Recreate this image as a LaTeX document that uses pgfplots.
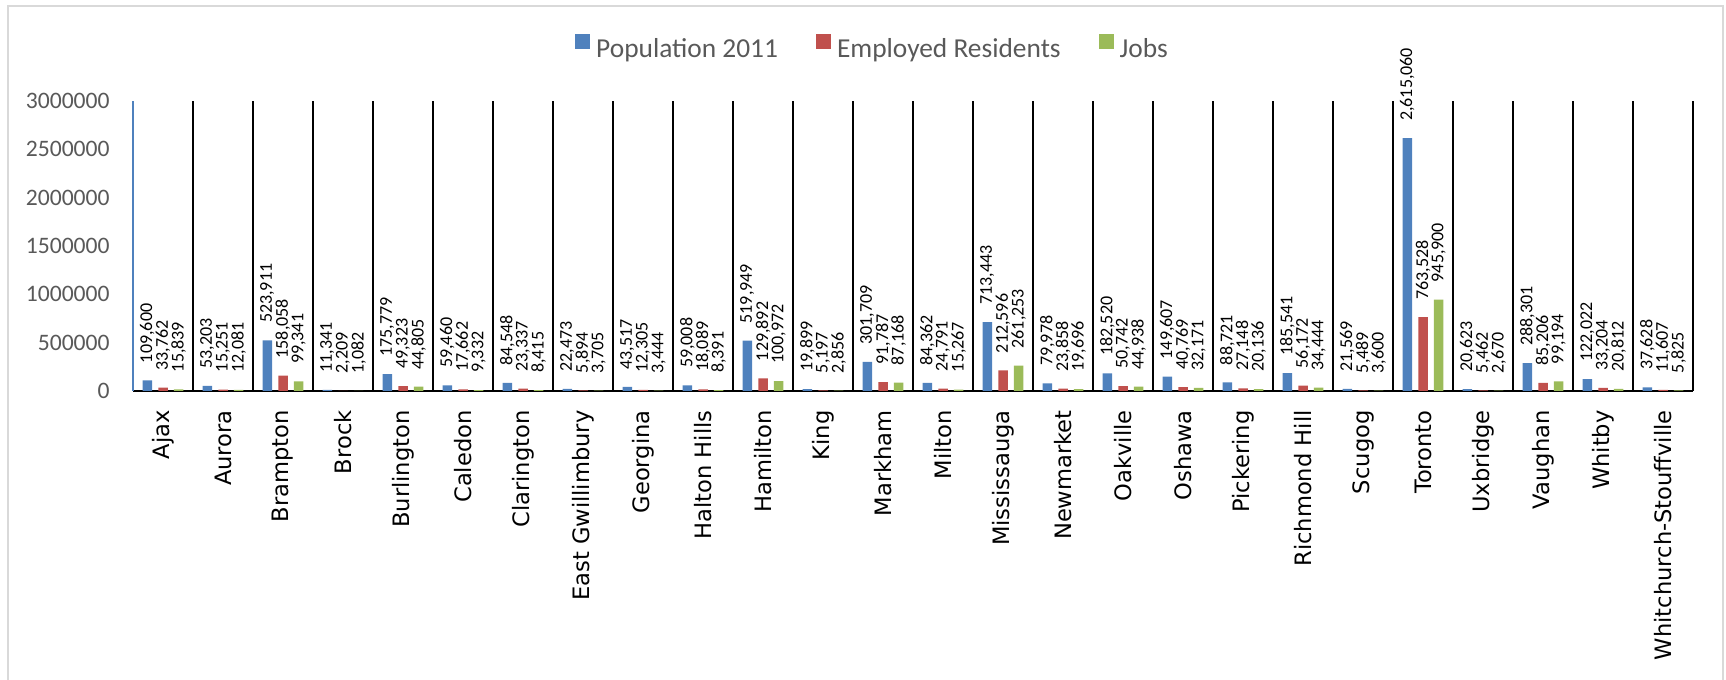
\documentclass[border=0pt]{standalone}
\usepackage{pgfplots}
\pgfplotsset{compat=1.18}
\usepackage{pgfplotstable}
\usepackage{fontspec}
\setmainfont{Carlito}
\newfontfamily\catfont{DejaVu Sans}

\definecolor{popblue}{HTML}{4F81BD}
\definecolor{empred}{HTML}{C0504D}
\definecolor{jobgreen}{HTML}{9BBB59}
\definecolor{ticktext}{HTML}{595959}
\definecolor{framegray}{HTML}{D9D9D9}

% Population (2011), employed residents and jobs by municipality
\pgfplotstableread{
idx pop emp jobs
0 109600 33762 15839
1 53203 15251 12081
2 523911 158058 99341
3 11341 2209 1082
4 175779 49323 44805
5 59460 17662 9332
6 84548 23337 8415
7 22473 5894 3705
8 43517 12305 3444
9 59008 18089 8391
10 519949 129892 100972
11 19899 5197 2856
12 301709 91787 87168
13 84362 24791 15267
14 713443 212596 261253
15 79978 23858 19696
16 182520 50742 44938
17 149607 40769 32171
18 88721 27148 20136
19 185541 56172 34444
20 21569 5489 3600
21 2615060 763528 945900
22 20623 5462 2670
23 288301 85206 99194
24 122022 33204 20812
25 37628 11607 5825
}\gtadata

\begin{document}
\begin{tikzpicture}
\useasboundingbox (0,0) rectangle (863pt,340pt);
\draw[framegray, line width=0.75pt] (4pt,-10pt) -- (4pt,337pt) -- (861.5pt,337pt) -- (861.5pt,-10pt);
\begin{axis}[
  at={(66.5pt,144.5pt)}, anchor=south west,
  scale only axis, width=780pt, height=145pt,
  xmin=-0.5, xmax=25.5, ymin=0, ymax=3000000,
  axis x line*=bottom, axis y line*=left,
  x axis line style={black, line width=1.2pt, -},
  y axis line style={popblue, line width=0.7pt, -},
  xtick={0,...,25},
  xticklabels={Ajax, Aurora, Brampton, Brock, Burlington, Caledon, Clarington,
    East Gwillimbury, Georgina, Halton Hills, Hamilton, King, Markham, Milton,
    Mississauga, Newmarket, Oakville, Oshawa, Pickering, Richmond Hill, Scugog,
    Toronto, Uxbridge, Vaughan, Whitby, Whitchurch-Stouffville},
  minor xtick={0.5,1.5,...,25.5},
  xminorgrids, minor grid style={black, line width=1pt},
  major tick length=0pt, minor tick length=0pt,
  ytick={0,500000,1000000,1500000,2000000,2500000,3000000},
  scaled y ticks=false,
  yticklabel={\pgfmathprintnumber[fixed,precision=0,1000 sep={},assume math mode=true]{\tick}},
  yticklabel style={font=\fontsize{11.8}{14}\selectfont, text=ticktext, anchor=east, inner xsep=11.5pt, inner ysep=0pt},
  xticklabel style={font=\catfont\fontsize{11.3}{13}\selectfont, text=black, rotate=90, anchor=east, inner xsep=9.5pt, inner ysep=0pt},
  ybar=3.1pt, bar width=4.75pt,
  clip=false,
  nodes near coords={\pgfmathprintnumber[fixed,precision=0,1000 sep={,},assume math mode=true]{\pgfplotspointmeta}},
  every node near coord/.append style={font=\fontsize{9}{10}\selectfont, text=black, rotate=90, anchor=west, inner xsep=8.5pt, inner ysep=0pt},
  legend columns=3,
  legend style={draw=none, fill=none, at={(0.4734,1.186)}, anchor=center,
    font=\fontsize{13.7}{16}\selectfont, text=ticktext, inner sep=0pt,
    nodes={inner sep=0pt},
    /tikz/every odd column/.append style={column sep=3pt},
    /tikz/every even column/.append style={column sep=19pt}},
  legend image code/.code={\fill[#1] (0pt,0.3pt) rectangle (7.5pt,7.8pt);},
]
\addplot[fill=popblue, draw=none] table[x=idx, y=pop]{\gtadata};
\addlegendentry{Population 2011}
\addplot[fill=empred, draw=none] table[x=idx, y=emp]{\gtadata};
\addlegendentry{Employed Residents}
\addplot[fill=jobgreen, draw=none] table[x=idx, y=jobs]{\gtadata};
\addlegendentry{Jobs}
\end{axis}
\end{tikzpicture}
\end{document}
